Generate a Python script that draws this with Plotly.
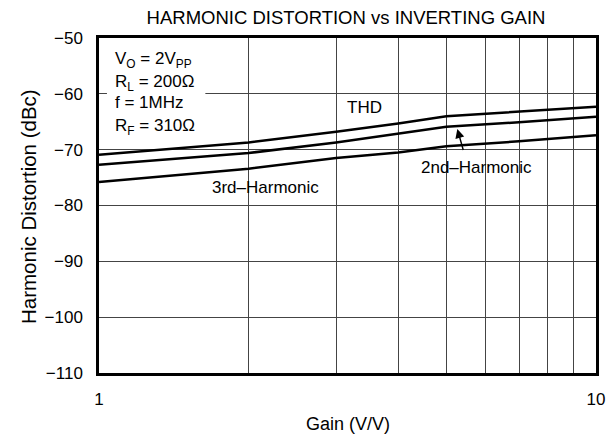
import plotly.graph_objects as go

# Data
gain = [1, 2, 3, 4, 5, 7, 10]
thd = [-70.9, -68.7, -66.8, -65.3, -64.0, -63.2, -62.3]
h2 = [-72.7, -70.6, -68.7, -67.1, -65.9, -65.1, -64.1]
h3 = [-75.8, -73.4, -71.5, -70.5, -69.4, -68.5, -67.4]

x_tickvals = [1, 2, 3, 4, 5, 6, 7, 8, 9, 10]
x_ticktext = ["1", "", "", "", "", "", "", "", "", "10"]
y_range = [-110, -50]

FONT = "Liberation Sans, Arial, Helvetica, sans-serif"

fig = go.Figure()
for name, ys in [("THD", thd), ("2nd-Harmonic", h2), ("3rd-Harmonic", h3)]:
    fig.add_trace(go.Scatter(x=gain, y=ys, mode="lines", name=name,
                             line=dict(color="black", width=2.5),
                             showlegend=False, hoverinfo="skip"))

# white background behind the test-condition block
fig.add_shape(type="rect", xref="x domain", yref="y", x0=0.016, x1=0.214, y0=-67, y1=-50.4,
              fillcolor="white", line=dict(width=0), layer="above")

cond = ["V<sub>O</sub> = 2V<sub>PP</sub>", "R<sub>L</sub> = 200Ω",
        "f = 1MHz", "R<sub>F</sub> = 310Ω"]
cond_y = [-53.9, -58.0, -61.6, -65.9]
for t, yy in zip(cond, cond_y):
    fig.add_annotation(x=0.028, xref="x domain", y=yy, yref="y", text=t, showarrow=False,
                       xanchor="left", yanchor="middle",
                       font=dict(size=17, color="black", family=FONT))

fig.add_annotation(x=0.535, y=-62.5, xref="x", yref="y", text="THD", showarrow=False,
                   font=dict(size=17, color="black", family=FONT))
fig.add_annotation(x=0.334, y=-76.8, xref="x", yref="y", text="3rd–Harmonic", showarrow=False,
                   font=dict(size=17, color="black", family=FONT))
fig.add_annotation(x=0.759, xref="x", y=-73.2, yref="y", text="2nd–Harmonic", showarrow=False,
                   font=dict(size=17, color="black", family=FONT))
# arrow pointing to the 2nd-harmonic line
fig.add_annotation(x=0.721, xref="x", y=-66.3, yref="y", text=" ", showarrow=True,
                   ax=9, ay=32, arrowhead=2, arrowsize=1.3, arrowwidth=1.4, arrowcolor="black")

# axis titles
fig.add_annotation(x=0.5, xref="paper", y=(373 - 424) / 335, yref="paper",
                   text="Gain (V/V)", showarrow=False, yanchor="middle",
                   font=dict(size=18, color="black", family=FONT))
fig.add_annotation(x=(28 - 99) / 497, xref="paper", y=(373 - 207) / 335, yref="paper",
                   text="Harmonic Distortion (dBc)", showarrow=False, textangle=-90,
                   xanchor="center", yanchor="middle",
                   font=dict(size=20.5, color="black", family=FONT))

fig.update_layout(
    width=606, height=436,
    margin=dict(l=99, r=10, t=38, b=63, autoexpand=False),
    paper_bgcolor="white", plot_bgcolor="white",
    font=dict(family=FONT, size=17, color="black"),
    title=dict(text="HARMONIC DISTORTION vs INVERTING GAIN", x=346 / 606, xanchor="center",
               y=1 - 18 / 436, yanchor="middle", font=dict(size=18.5, family=FONT, color="black")),
    xaxis=dict(type="log", range=[0, 1], tickvals=x_tickvals, ticktext=x_ticktext,
               showgrid=True, gridcolor="#444", gridwidth=1,
               ticks="outside", ticklen=9, tickcolor="rgba(0,0,0,0)",
               showline=True, linecolor="black", linewidth=2.5, mirror=True,
               zeroline=False, automargin=False,
               tickfont=dict(size=17, family=FONT, color="black")),
    yaxis=dict(range=y_range, dtick=10, showgrid=True, gridcolor="#444", gridwidth=1,
               ticks="outside", ticklen=10, tickcolor="rgba(0,0,0,0)",
               showline=True, linecolor="black", linewidth=2.5, mirror=True,
               zeroline=False, automargin=False,
               tickfont=dict(size=17, family=FONT, color="black")),
)

fig.write_html("out.html", config={"displayModeBar": False},
               post_script="document.body.style.margin='0px';")
